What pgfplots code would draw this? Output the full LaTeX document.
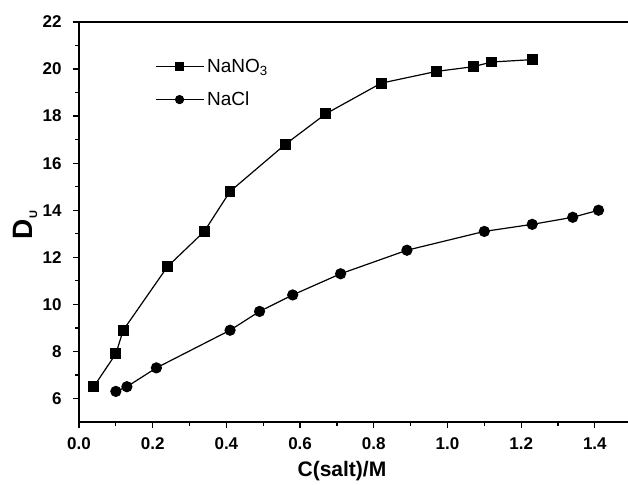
\documentclass[border=0pt]{standalone}
\usepackage{fontspec}
\setmainfont{Liberation Sans}
\usepackage{pgfplots}
\pgfplotsset{compat=1.18}
\begin{document}
\begin{tikzpicture}
\begin{axis}[
  scale only axis,
  width=549pt, height=400pt,
  xmin=0, xmax=1.49, ymin=5, ymax=22,
  axis x line*=bottom, axis y line*=left,
  axis line style={line width=1.5pt},
  xtick={0,0.2,...,1.4}, minor xtick={0.1,0.3,...,1.3},
  ytick={6,8,...,22}, minor ytick={7,9,...,21},
  tick align=outside,
  major tick length=6pt, minor tick length=3.5pt,
  every tick/.style={line width=1.3pt, black},
  /pgf/number format/assume math mode=true,
  xticklabel style={/pgf/number format/.cd, fixed, fixed zerofill, precision=1, /tikz/.cd, yshift=-6pt},
  yticklabel style={/pgf/number format/.cd, fixed, precision=0, /tikz/.cd, xshift=-8pt},
  tick label style={font=\fontsize{17}{17}\selectfont\bfseries},
  xlabel={C(salt)/M},
  xlabel style={font=\fontsize{21}{21}\selectfont\bfseries, at={(axis description cs:0.479,0)}, anchor=north, inner sep=0pt, yshift=-39pt},
  ylabel={D\raisebox{-0.35ex}{\fontsize{11}{11}\selectfont U}},
  ylabel style={font=\fontsize{28}{28}\selectfont\bfseries, at={(axis description cs:-0.0856,0.4925)}, anchor=base, inner sep=0pt},
  clip=false,
  legend cell align=left,
  legend style={draw=none, fill=none, at={(rel axis cs:0.138,0.915)}, anchor=north west, inner sep=0pt, row sep=12pt,
    font=\fontsize{19}{19}\selectfont, nodes={inner sep=3pt}},
]
\coordinate (bl) at (rel axis cs:0,0);
\coordinate (tr) at (rel axis cs:1,1);
\draw[line width=1.5pt] (rel axis cs:0,1) -- (rel axis cs:1,1);
\addplot[black, line width=1.2pt, mark=square*, mark size=4.8pt,
  legend image code/.code={\draw[black, line width=1.2pt] (0pt,0pt) -- (48pt,0pt); \fill[black] (20pt,-4pt) rectangle (28pt,4pt);}]
coordinates {
(0.04,6.5) (0.10,7.9) (0.12,8.9) (0.24,11.6) (0.34,13.1) (0.41,14.8) (0.56,16.8)
(0.67,18.1) (0.82,19.4) (0.97,19.9) (1.07,20.1) (1.12,20.3) (1.23,20.4)
};
\addlegendentry{NaNO\textsubscript{3}}
\addplot[black, line width=1.2pt, mark=*, mark size=5pt,
  legend image code/.code={\draw[black, line width=1.2pt] (0pt,0pt) -- (48pt,0pt); \fill[black] (24pt,0pt) circle (4pt);}]
coordinates {
(0.10,6.3) (0.13,6.5) (0.21,7.3) (0.41,8.9) (0.49,9.7) (0.58,10.4) (0.71,11.3)
(0.89,12.3) (1.10,13.1) (1.23,13.4) (1.34,13.7) (1.41,14.0)
};
\addlegendentry{NaCl}
\end{axis}
\pgfresetboundingbox
\path[use as bounding box] ([shift={(-79pt,-62pt)}]bl) rectangle ([shift={(0pt,22pt)}]tr);
\end{tikzpicture}
\end{document}
